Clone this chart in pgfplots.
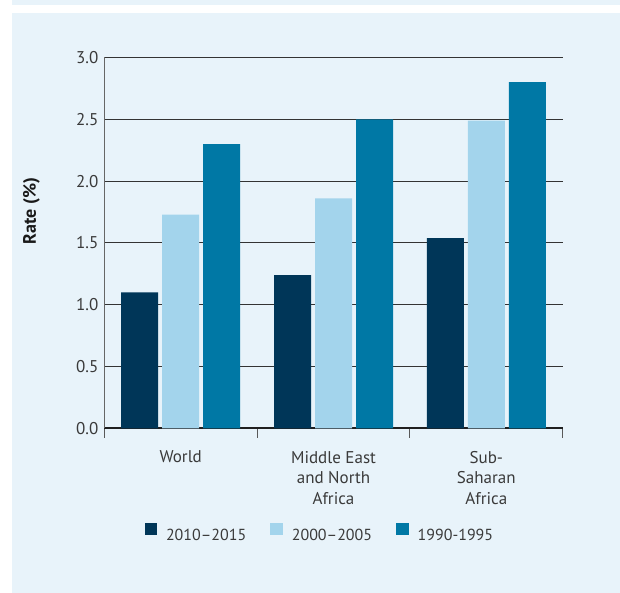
\documentclass[border=0pt]{standalone}
\usepackage{fontspec}
\setmainfont{PT Sans}
\usepackage{pgfplots}
\pgfplotsset{compat=1.18}
\definecolor{bg}{HTML}{E8F3FA}
\definecolor{cdark}{HTML}{003658}
\definecolor{clight}{HTML}{A3D4EC}
\definecolor{cmid}{HTML}{0078A5}
\definecolor{txt}{HTML}{3A3A3A}
\definecolor{gridc}{HTML}{333333}
\newcommand{\lbl}{\fontsize{17}{20.5}\selectfont}
\newcommand{\lgd}{\fontsize{16}{19}\selectfont}
\begin{document}
\begin{tikzpicture}
\path[use as bounding box] (0pt,0pt) rectangle (620pt,593pt);
\fill[bg] (12pt,0pt) rectangle (620pt,580pt);
\fill[bg] (12pt,588pt) rectangle (620pt,593pt);
\begin{axis}[
  at={(104.3pt,164.5pt)}, anchor=south west,
  scale only axis, width=458.4pt, height=371pt,
  ymin=0, ymax=3, xmin=-0.5, xmax=2.5,
  ybar=4pt, bar width=37pt,
  axis x line*=bottom, axis y line*=left,
  x axis line style={line width=2pt, draw=black!88},
  y axis line style={line width=0.8pt, draw=black!60},
  ymajorgrids, major grid style={draw=gridc, line width=1pt},
  ytick={0,0.5,1,1.5,2,2.5,3},
  ytick style={draw=none},
  major tick length=0pt,
  /pgf/number format/assume math mode=true,
  yticklabel style={/pgf/number format/.cd, fixed, fixed zerofill, precision=1, /tikz/.cd, font=\lbl, text=txt, xshift=-2.5pt},
  xtick={0,1,2},
  xticklabels={World, {Middle East\\and North\\Africa}, {Sub-\\Saharan\\Africa}},
  xticklabel style={align=center, font=\lbl, text=txt, anchor=north, yshift=-19pt},
  major x tick style={draw=none},
  minor xtick={-0.5,0.5,1.5,2.5},
  minor x tick style={draw=black!65, line width=1pt},
  minor tick length=9.5pt, tick align=outside,
  ylabel={Rate (\%)},
  ylabel style={at={(axis description cs:-0.159,0.586)}, anchor=center, text=black!90, font={\fontsize{18}{21}\selectfont\bfseries}},
  legend style={at={(0.468,-0.280)}, anchor=center, draw=none, fill=none,
    legend columns=3, font=\lgd, text=txt,
    /tikz/every even column/.append style={column sep=24pt},
    /tikz/every odd column/.append style={column sep=9pt},
    nodes={inner sep=0pt}},
]
\addplot[fill=cdark, draw=none, legend image code/.code={\fill[cdark] (0pt,0pt) rectangle (12.5pt,12.5pt);}] coordinates {(0,1.10) (1,1.24) (2,1.54)};
\addlegendentry{2010–2015}
\addplot[fill=clight, draw=none, legend image code/.code={\fill[clight] (0pt,0pt) rectangle (12.5pt,12.5pt);}] coordinates {(0,1.73) (1,1.86) (2,2.49)};
\addlegendentry{2000–2005}
\addplot[fill=cmid, draw=none, legend image code/.code={\fill[cmid] (0pt,0pt) rectangle (12.5pt,12.5pt);}] coordinates {(0,2.30) (1,2.50) (2,2.80)};
\addlegendentry{1990-1995}
\end{axis}
\end{tikzpicture}
\end{document}
